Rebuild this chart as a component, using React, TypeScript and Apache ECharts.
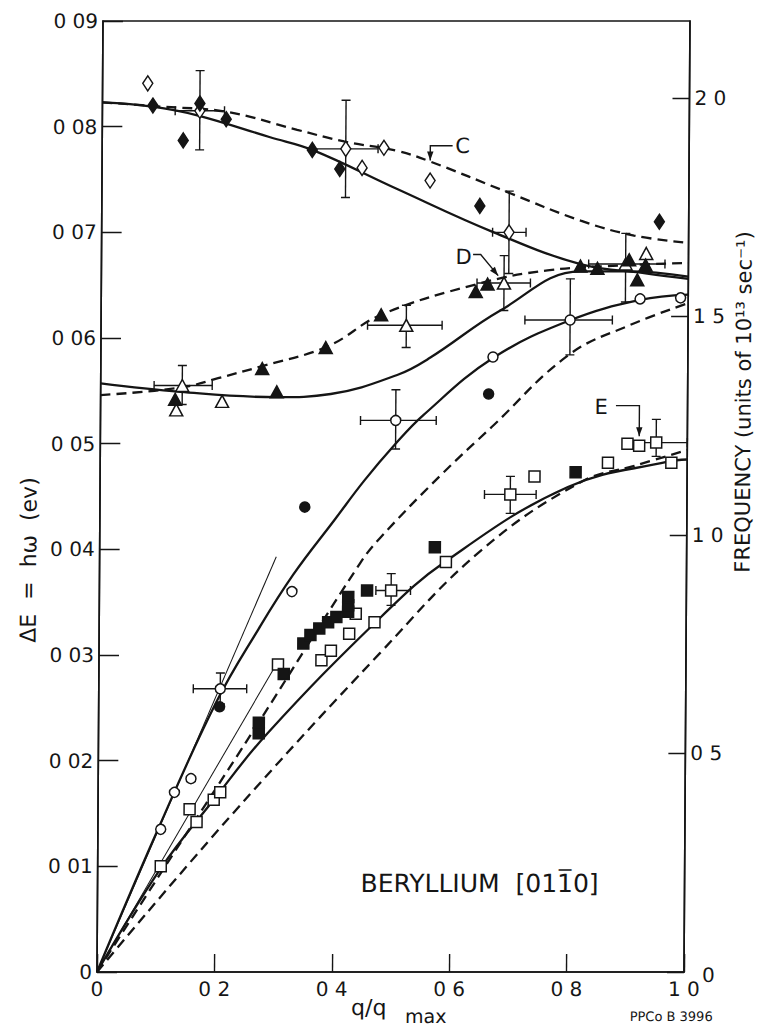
import React, { useEffect, useRef } from "react";
import * as echarts from "echarts";

const WIDTH = 761;
const HEIGHT = 1026;
const FONT = "DejaVu Sans";
const INK = "#151515";

// Photon energy of a 10^13 s^-1 vibration, in eV (h = 4.1357e-15 eV·s)
const EV_PER_FREQ_UNIT = 0.041357;

// Tick labels as lettered on the figure
const qTickLabels = ["0", "0 2", "0 4", "0 6", "0 8", "1 0"];
const energyTickLabels = ["0", "0 01", "0 02", "0 03", "0 04", "0 05", "0 06", "0 07", "0 08", "0 09"];
const freqTickLabels = ["0", "0 5", "1 0", "1 5", "2 0"];

// Calculated dispersion curves, [q/qmax, ΔE (eV)]
const upperSolid = [[0, 0.0823], [0.085, 0.0819], [0.16, 0.0811], [0.286, 0.079], [0.358, 0.0778], [0.503, 0.0741], [0.668, 0.07], [0.816, 0.067], [0.93, 0.0661], [1.0, 0.0656]];
const upperDashed = [[0, 0.0823], [0.1, 0.0819], [0.212, 0.0814], [0.332, 0.0797], [0.412, 0.0786], [0.503, 0.0777], [0.559, 0.0767], [0.691, 0.0738], [0.816, 0.0711], [0.907, 0.0697], [1.0, 0.069]];
const middleSolid = [[0, 0.0557], [0.136, 0.0549], [0.3, 0.0544], [0.392, 0.0547], [0.505, 0.0565], [0.56, 0.0581], [0.68, 0.0626], [0.816, 0.0663], [0.9, 0.0663], [1.0, 0.0658]];
const middleDashed = [[0, 0.0546], [0.136, 0.0553], [0.2, 0.0562], [0.272, 0.0573], [0.386, 0.0592], [0.477, 0.0622], [0.64, 0.0651], [0.76, 0.0664], [0.9, 0.0669], [1.0, 0.0671]];
const circleSolid = [[0, 0], [0.1, 0.0132], [0.2, 0.0255], [0.272, 0.0325], [0.33, 0.0376], [0.4, 0.0428], [0.45, 0.0465], [0.5, 0.0498], [0.55, 0.0527], [0.668, 0.0581], [0.8, 0.0617], [0.918, 0.0636], [1.0, 0.0641]];
const originDashedUpper = [[0, 0], [0.1, 0.0087], [0.268, 0.0232], [0.444, 0.0387], [0.478, 0.0411], [0.58, 0.047], [0.667, 0.0516], [0.797, 0.0584], [0.9, 0.0612], [1.0, 0.0633]];
const originDashedLower = [[0, 0], [0.225, 0.0147], [0.479, 0.0302], [0.65, 0.0399], [0.82, 0.0464], [0.91, 0.0479], [1.0, 0.0494]];
const squareSolid = [[0, 0], [0.1075, 0.0098], [0.197, 0.0163], [0.288, 0.0226], [0.48, 0.0336], [0.588, 0.0388], [0.797, 0.0459], [0.967, 0.0483], [1.0, 0.0485]];
const initialSlopeSteep = [[0, 0], [0.301, 0.0393]];
const initialSlopeShallow = [[0, 0], [0.303, 0.0292]];

// Measured phonon energies, [q/qmax, ΔE (eV)]
const diamondsOpen = [[0.077, 0.0841], [0.166, 0.0815], [0.415, 0.0779], [0.443, 0.0761], [0.48, 0.078], [0.559, 0.0749], [0.694, 0.07]];
const diamondsFilled = [[0.086, 0.082], [0.138, 0.0787], [0.166, 0.0822], [0.211, 0.0807], [0.358, 0.0778], [0.405, 0.076], [0.644, 0.0725], [0.95, 0.071]];
const trianglesOpen = [[0.129, 0.0532], [0.139, 0.0555], [0.207, 0.054], [0.52, 0.0612], [0.686, 0.0652], [0.893, 0.067], [0.928, 0.068]];
const trianglesFilled = [[0.127, 0.0542], [0.275, 0.0571], [0.3, 0.0549], [0.383, 0.0591], [0.477, 0.0622], [0.638, 0.0644], [0.658, 0.0651], [0.816, 0.0668], [0.845, 0.0666], [0.899, 0.0674], [0.913, 0.0655], [0.927, 0.0669]];
const circlesOpen = [[0.107, 0.0135], [0.13, 0.017], [0.158, 0.0183], [0.207, 0.0268], [0.328, 0.036], [0.503, 0.0522], [0.668, 0.0582], [0.799, 0.0617], [0.918, 0.0637], [0.987, 0.0638]];
const circlesFilled = [[0.206, 0.0251], [0.349, 0.044], [0.661, 0.0547]];
const squaresOpen = [[0.1075, 0.01], [0.156, 0.0154], [0.168, 0.0142], [0.197, 0.0163], [0.208, 0.017], [0.305, 0.0291], [0.379, 0.0295], [0.395, 0.0304], [0.426, 0.032], [0.437, 0.0339], [0.469, 0.0331], [0.497, 0.0361], [0.59, 0.0388], [0.699, 0.0452], [0.74, 0.0469], [0.865, 0.0482], [0.898, 0.05], [0.918, 0.0498], [0.947, 0.0501], [0.973, 0.0482]];
const squaresFilled = [[0.273, 0.0236], [0.273, 0.0226], [0.315, 0.0282], [0.348, 0.0311], [0.36, 0.0319], [0.375, 0.0325], [0.39, 0.0331], [0.404, 0.0336], [0.424, 0.0341], [0.424, 0.0347], [0.424, 0.0355], [0.456, 0.0361], [0.571, 0.0402], [0.81, 0.0473]];

// Uncertainties: [q, ΔE, qLow, qHigh, ΔELow, ΔEHigh]
const errorBars = [
  [0.166, 0.0815, 0.124, 0.208, 0.0778, 0.0853],
  [0.415, 0.0779, 0.36, 0.47, 0.0733, 0.0825],
  [0.694, 0.07, 0.666, 0.723, 0.0661, 0.0739],
  [0.139, 0.0555, 0.091, 0.19, 0.0537, 0.0574],
  [0.52, 0.0612, 0.454, 0.581, 0.0591, 0.0631],
  [0.686, 0.0652, 0.64, 0.731, 0.0626, 0.0678],
  [0.893, 0.067, 0.83, 0.96, 0.0634, 0.0699],
  [0.503, 0.0522, 0.443, 0.572, 0.0495, 0.0551],
  [0.799, 0.0617, 0.722, 0.871, 0.0584, 0.0656],
  [0.207, 0.0268, 0.161, 0.252, 0.0254, 0.0283],
  [0.497, 0.0361, 0.471, 0.53, 0.0347, 0.0377],
  [0.699, 0.0452, 0.655, 0.743, 0.0434, 0.0469],
  [0.947, 0.0501, 0.9, 1.0, 0.0488, 0.0523],
];

// Branch labels with their pointer paths, in data coordinates
const branchLabels = [
  { text: "C", at: [0.614, 0.0782], path: [[0.597, 0.0782], [0.559, 0.0782], [0.559, 0.0768]] },
  { text: "D", at: [0.617, 0.0677], path: [[0.633, 0.0679], [0.646, 0.0679], [0.676, 0.0659]] },
  { text: "E", at: [0.853, 0.0535], path: [[0.878, 0.0536], [0.918, 0.0536], [0.918, 0.0507]] },
];

function curve(name: string, data: number[][], dashed: boolean, width = 2.3, smooth: number | boolean = 0.4) {
  return {
    type: "line",
    name,
    data,
    smooth,
    showSymbol: false,
    symbol: "none",
    silent: true,
    z: 2,
    lineStyle: { color: INK, width, type: dashed ? [10, 6] : "solid" },
  };
}

function points(name: string, data: number[][], symbol: string, size: number | number[], filled: boolean) {
  return {
    type: "scatter",
    name,
    data,
    symbol,
    symbolSize: size,
    z: 6,
    itemStyle: { color: filled ? INK : "#ffffff", borderColor: INK, borderWidth: 1.5, opacity: 1 },
  };
}

function errorBarItem(_params: any, api: any) {
  const c = api.coord([api.value(0), api.value(1)]);
  const l = api.coord([api.value(2), api.value(1)]);
  const r = api.coord([api.value(3), api.value(1)]);
  const lo = api.coord([api.value(0), api.value(4)]);
  const hi = api.coord([api.value(0), api.value(5)]);
  const cap = 4.5;
  const style = { stroke: INK, lineWidth: 1.4, fill: null };
  const seg = (x1: number, y1: number, x2: number, y2: number) => ({ type: "line", shape: { x1, y1, x2, y2 }, style });
  return {
    type: "group",
    children: [
      seg(l[0], c[1], r[0], c[1]),
      seg(l[0], c[1] - cap, l[0], c[1] + cap),
      seg(r[0], c[1] - cap, r[0], c[1] + cap),
      seg(c[0], lo[1], c[0], hi[1]),
      seg(c[0] - cap, lo[1], c[0] + cap, lo[1]),
      seg(c[0] - cap, hi[1], c[0] + cap, hi[1]),
    ],
  };
}

const labelFont = { color: INK, fontFamily: FONT, fontSize: 20 };

export default function App() {
  const ref = useRef<HTMLDivElement>(null);

  useEffect(() => {
    if (!ref.current) return;
    const chart = echarts.init(ref.current, undefined, { renderer: "svg", width: WIDTH, height: HEIGHT });

    chart.setOption({
      animation: false,
      backgroundColor: "#ffffff",
      grid: { left: 97, right: WIDTH - 684, top: 21, bottom: HEIGHT - 972, show: true, borderColor: INK, borderWidth: 1.6, backgroundColor: "transparent" },
      xAxis: {
        type: "value",
        min: 0,
        max: 1,
        interval: 0.2,
        axisLine: { lineStyle: { color: INK, width: 1.6 } },
        axisTick: { inside: true, length: 18, lineStyle: { color: INK, width: 1.4 } },
        splitLine: { show: false },
        axisLabel: { ...labelFont, margin: 7, formatter: (v: number) => qTickLabels[Math.round(v * 5)] ?? "" },
      },
      yAxis: [
        {
          type: "value",
          min: 0,
          max: 0.09,
          interval: 0.01,
          axisLine: { show: true, lineStyle: { color: INK, width: 1.6 } },
          axisTick: { show: true, inside: true, length: 20, lineStyle: { color: INK, width: 1.4 } },
          splitLine: { show: false },
          axisLabel: { ...labelFont, margin: 5, formatter: (v: number) => energyTickLabels[Math.round(v * 100)] ?? "" },
        },
        {
          type: "value",
          position: "right",
          min: 0,
          max: 0.09 / EV_PER_FREQ_UNIT,
          interval: 0.5,
          axisLine: { show: true, lineStyle: { color: INK, width: 1.6 } },
          axisTick: { show: true, inside: true, length: 17, lineStyle: { color: INK, width: 1.4 } },
          splitLine: { show: false },
          axisLabel: {
            ...labelFont,
            margin: 5,
            showMaxLabel: false,
            formatter: (v: number) => {
              const i = Math.round(v * 2);
              return i === 0 ? "{zero|" + freqTickLabels[0] + "}" : freqTickLabels[i] ?? "";
            },
            rich: { zero: { ...labelFont, padding: [6, 0, 0, 13] } },
          },
        },
      ],
      series: [
        curve("upper solid", upperSolid, false),
        curve("upper dashed", upperDashed, true),
        curve("middle solid", middleSolid, false),
        curve("middle dashed", middleDashed, true),
        curve("circle branch", circleSolid, false),
        curve("origin dashed upper", originDashedUpper, true),
        curve("origin dashed lower", originDashedLower, true),
        curve("square branch", squareSolid, false),
        curve("initial slope steep", initialSlopeSteep, false, 1, false),
        curve("initial slope shallow", initialSlopeShallow, false, 1, false),
        {
          type: "custom",
          name: "error bars",
          data: errorBars,
          encode: { x: 0, y: 1 },
          renderItem: errorBarItem,
          z: 4,
          silent: true,
        },
        points("diamonds open", diamondsOpen, "diamond", [10, 15], false),
        points("diamonds filled", diamondsFilled, "diamond", [10, 15], true),
        points("triangles open", trianglesOpen, "triangle", [13, 12], false),
        points("triangles filled", trianglesFilled, "triangle", [13, 12], true),
        points("circles open", circlesOpen, "circle", 10, false),
        points("circles filled", circlesFilled, "circle", 10, true),
        points("squares open", squaresOpen, "rect", 11, false),
        points("squares filled", squaresFilled, "rect", 11, true),
      ],
    });

    const px = (p: number[]) => chart.convertToPixel({ xAxisIndex: 0, yAxisIndex: 0 }, p) as number[];
    const arrowHead = (tip: number[], from: number[], size = 9, half = 3.2) => {
      const dx = tip[0] - from[0];
      const dy = tip[1] - from[1];
      const len = Math.hypot(dx, dy) || 1;
      const ux = dx / len;
      const uy = dy / len;
      const bx = tip[0] - ux * size;
      const by = tip[1] - uy * size;
      return {
        type: "polygon",
        shape: { points: [tip, [bx - uy * half, by + ux * half], [bx + uy * half, by - ux * half]] },
        style: { fill: INK },
        z: 10,
      };
    };

    const graphics: any[] = [];
    branchLabels.forEach((b) => {
      const at = px(b.at);
      graphics.push({ type: "text", x: at[0], y: at[1], z: 10, style: { text: b.text, fill: INK, fontFamily: FONT, fontSize: 21, align: "center", verticalAlign: "middle" } });
      const pts = b.path.map(px);
      graphics.push({ type: "polyline", shape: { points: pts }, style: { stroke: INK, lineWidth: 1.4, fill: null }, z: 10 });
      graphics.push(arrowHead(pts[pts.length - 1], pts[pts.length - 2]));
    });

    graphics.push(
      { type: "text", x: 26, y: 560, rotation: Math.PI / 2, style: { text: "ΔE  =  hω  (ev)", fill: INK, fontFamily: FONT, fontSize: 22, align: "center", verticalAlign: "middle" } },
      { type: "text", x: 740, y: 402, rotation: Math.PI / 2, style: { text: "FREQUENCY (units of 10¹³ sec⁻¹)", fill: INK, fontFamily: FONT, fontSize: 21, align: "center", verticalAlign: "middle" } },
      { type: "text", x: 369, y: 1008, style: { text: "q/q", fill: INK, fontFamily: FONT, fontSize: 22, align: "center", verticalAlign: "middle" } },
      { type: "text", x: 426, y: 1016, style: { text: "max", fill: INK, fontFamily: FONT, fontSize: 19, align: "center", verticalAlign: "middle" } },
      { type: "text", x: 360, y: 884, style: { text: "BERYLLIUM  [011\u03050]", fill: INK, fontFamily: FONT, fontSize: 25, align: "left", verticalAlign: "middle" } },
      { type: "text", x: 630, y: 1017, style: { text: "PPCo B 3996", fill: INK, fontFamily: FONT, fontSize: 13, align: "left", verticalAlign: "middle" } }
    );

    chart.setOption({ graphic: graphics });

    return () => chart.dispose();
  }, []);

  return (
    <div
      ref={ref}
      style={{
        position: "absolute",
        left: 0,
        top: 0,
        width: WIDTH,
        height: HEIGHT,
        background: "#ffffff",
        transform: "skewX(-0.36deg)",
        transformOrigin: "0px 972px",
      }}
    />
  );
}
